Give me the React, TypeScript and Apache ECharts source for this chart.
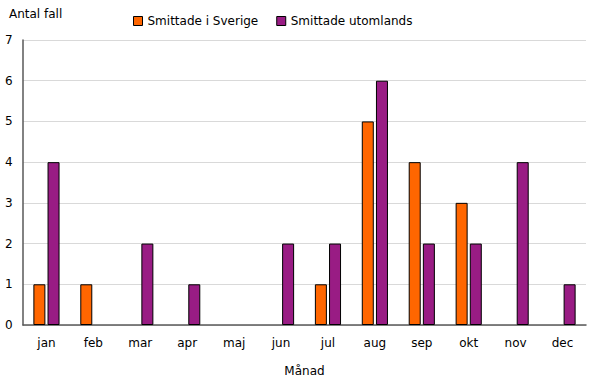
import React, { useEffect, useRef } from "react";
import * as echarts from "echarts";

const months = ["jan", "feb", "mar", "apr", "maj", "jun", "jul", "aug", "sep", "okt", "nov", "dec"];
const sverige = [1, 1, 0, 0, 0, 0, 1, 5, 4, 3, 0, 0];
const utomlands = [4, 0, 2, 1, 0, 2, 2, 6, 2, 2, 4, 1];
const yTicks = [0, 1, 2, 3, 4, 5, 6, 7];

const FONT = "DejaVu Sans";

const toData = (arr: number[]) =>
  arr.map((v) => (v === 0 ? { value: v, itemStyle: { borderWidth: 0, opacity: 0 } } : v));

export default function App() {
  const ref = useRef<HTMLDivElement>(null);
  useEffect(() => {
    if (!ref.current) return;
    const chart = echarts.init(ref.current, undefined, { renderer: "svg" });
    chart.setOption({
      animation: false,
      textStyle: { fontFamily: FONT, color: "#000" },
      legend: {
        top: 10,
        left: 128,
        itemWidth: 9,
        itemHeight: 9,
        itemGap: 18,
        textStyle: { fontSize: 12, color: "#000", fontFamily: FONT },
        data: [
          { name: "Smittade i Sverige", icon: "rect", itemStyle: { borderColor: "#000", borderWidth: 1 } },
          { name: "Smittade utomlands", icon: "rect", itemStyle: { borderColor: "#000", borderWidth: 1 } },
        ],
      },
      graphic: [
        { type: "text", left: 9, top: 8, style: { text: "Antal fall", font: `12px ${FONT}`, fill: "#000" } },
      ],
      grid: { left: 23, right: 4, top: 40, bottom: 60 },
      xAxis: {
        type: "category",
        data: months,
        name: "Månad",
        nameLocation: "middle",
        nameGap: 40,
        nameTextStyle: { fontSize: 12, color: "#000", fontFamily: FONT },
        axisLine: { lineStyle: { color: "#595959", width: 1.5 } },
        axisTick: { show: false },
        axisLabel: { fontSize: 12, color: "#000", margin: 12, fontFamily: FONT },
      },
      yAxis: {
        type: "value",
        min: yTicks[0],
        max: yTicks[yTicks.length - 1],
        interval: 1,
        axisLine: { show: true, lineStyle: { color: "#595959", width: 1.5 } },
        axisTick: { show: false },
        axisLabel: { fontSize: 12, color: "#000", margin: 18, align: "left", fontFamily: FONT },
        splitLine: { lineStyle: { color: "#d9d9d9", width: 1 } },
      },
      series: [
        {
          name: "Smittade i Sverige",
          type: "bar",
          data: toData(sverige),
          barWidth: 12,
          barGap: "18%",
          itemStyle: { color: "#FF6600", borderColor: "#000", borderWidth: 1 },
        },
        {
          name: "Smittade utomlands",
          type: "bar",
          data: toData(utomlands),
          barWidth: 12,
          barGap: "18%",
          itemStyle: { color: "#991C84", borderColor: "#000", borderWidth: 1 },
        },
      ],
    });
    return () => chart.dispose();
  }, []);
  return <div ref={ref} style={{ width: 590, height: 385, position: "absolute", left: 0, top: 0 }} />;
}
